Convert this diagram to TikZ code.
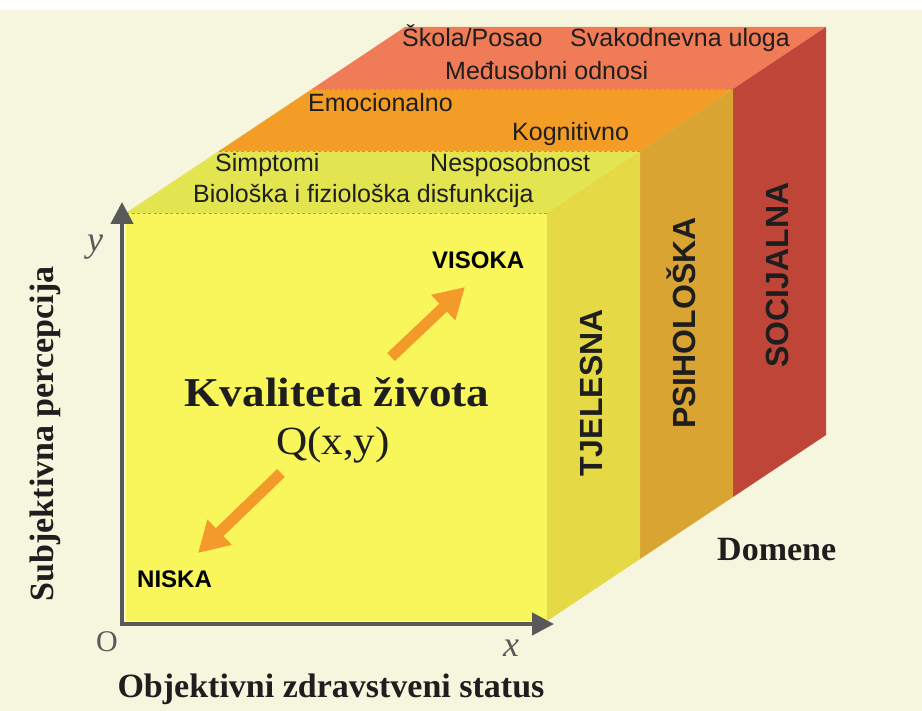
\documentclass[tikz,border=0pt]{standalone}
\usepackage{fontspec}
\setmainfont{Liberation Serif}
\setsansfont{Liberation Sans}
\usetikzlibrary{arrows.meta}
\definecolor{bgc}{HTML}{F6F6DF}
\definecolor{frontc}{HTML}{F8F65A}
\definecolor{ytopc}{HTML}{E3E550}
\definecolor{ysidec}{HTML}{E5DA45}
\definecolor{otopc}{HTML}{F39C26}
\definecolor{osidec}{HTML}{D9A431}
\definecolor{rtopc}{HTML}{F07B57}
\definecolor{rsidec}{HTML}{BE4538}
\definecolor{arrc}{HTML}{F39A2B}
\definecolor{axc}{HTML}{595959}
\definecolor{txc}{HTML}{1E1E1E}
\begin{document}
\begin{tikzpicture}[x=1pt,y=-1pt,
  toptxt/.style={font=\sffamily\fontsize{25}{30}\selectfont, text=txc, anchor=base west, inner sep=0pt},
  sidetxt/.style={font=\sffamily\bfseries\fontsize{32}{36}\selectfont, text=txc, rotate=90, anchor=base, inner sep=0pt},
  lvltxt/.style={font=\sffamily\bfseries\fontsize{24}{28}\selectfont, text=black, anchor=base west, inner sep=0pt},
  sertxt/.style={font=\bfseries\fontsize{34}{40}\selectfont, text=txc, anchor=base, inner sep=0pt},
  axtxt/.style={text=axc, inner sep=0pt},
  sep/.style={draw=gray!80, dashed, line width=0.8pt, dash pattern=on 3pt off 2.5pt},
  qarrow/.style={draw=arrc, line width=11pt, -{Triangle[length=30pt,width=33pt]}},
  axis/.style={draw=axc, line width=4.5pt, {Triangle[length=22pt,width=22pt]}-{Triangle[length=22pt,width=22pt]}}
]
\useasboundingbox (0,0) rectangle (922,711);
\fill[white] (0,0) rectangle (922,711);
\fill[bgc] (0,10) rectangle (922,711);

% corners
\coordinate (A) at (126,213);
\coordinate (B) at (547,213);
\coordinate (C) at (547,621);
\coordinate (D) at (126,621);
\coordinate (A1) at (219,151);
\coordinate (B1) at (640,151);
\coordinate (C1) at (640,559);
\coordinate (A2) at (312,89);
\coordinate (B2) at (733,89);
\coordinate (C2) at (733,497);
\coordinate (A3) at (405,27);
\coordinate (B3) at (826,27);
\coordinate (C3) at (826,435);

% red layer
\fill[rtopc] (A2) -- (B2) -- (B3) -- (A3) -- cycle;
\fill[rsidec] (B2) -- (C2) -- (C3) -- (B3) -- cycle;
% orange layer
\fill[otopc] (A1) -- (B1) -- (B2) -- (A2) -- cycle;
\fill[osidec] (B1) -- (C1) -- (C2) -- (B2) -- cycle;
% yellow layer
\fill[ytopc] (A) -- (B) -- (B1) -- (A1) -- cycle;
\fill[ysidec] (B) -- (C) -- (C1) -- (B1) -- cycle;
\fill[frontc] (A) -- (B) -- (C) -- (D) -- cycle;

% dashed separators
\draw[sep] (A) -- (B);
\draw[sep] (A1) -- (B1);
\draw[sep] (A2) -- (B2);

% top face texts
\node[toptxt] (t1) at (402,47) {Škola/Posao};
\node[toptxt] (t2) at (570,47) {Svakodnevna uloga};
\node[toptxt] (t3) at (445,80) {Međusobni odnosi};
\node[toptxt] (t4) at (308,112) {Emocionalno};
\node[toptxt] (t5) at (512,141) {Kognitivno};
\node[toptxt] (t6) at (215,172) {Simptomi};
\node[toptxt] (t7) at (430,172) {Nesposobnost};
\node[toptxt] (t8) at (193,203) {Biološka i fiziološka disfunkcija};

% side labels
\node[sidetxt] (s1) at (602,393) {TJELESNA};
\node[sidetxt] (s2) at (695,323) {PSIHOLOŠKA};
\node[sidetxt] (s3) at (788,275) {SOCIJALNA};

% axes
\coordinate (O) at (122,624);
\coordinate (ytip) at (122,202);
\coordinate (xtip) at (554,624);
\draw[axis] (ytip) -- (O) -- (xtip);
\node[axtxt, font=\itshape\fontsize{36}{40}\selectfont] (ylab) at (95,247) {y};
\node[axtxt, font=\fontsize{30}{34}\selectfont] (olab) at (107,642) {O};
\node[axtxt, font=\itshape\fontsize{36}{40}\selectfont] (xlab) at (511,648) {x};

% center texts
\node[sertxt, font=\bfseries\fontsize{41}{46}\selectfont] (kz) at (337,407) {\scalebox{1.1}[1]{Kvaliteta života}};
\node[sertxt, font=\fontsize{40}{46}\selectfont] (q) at (333,455) {\scalebox{1.08}[1]{Q(x,y)}};
\node[lvltxt] (vis) at (432,269) {VISOKA};
\node[lvltxt] (nis) at (137,587) {NISKA};

% orange arrows
\coordinate (u0) at (391,357);
\coordinate (u1) at (465,287);
\coordinate (l0) at (281,473);
\coordinate (l1) at (198,553);
\draw[qarrow] (u0) -- (u1);
\draw[qarrow] (l0) -- (l1);

% axis titles
\node[sertxt, rotate=90] (ysub) at (53,434) {Subjektivna percepcija};
\node[sertxt] (xobj) at (331,697) {Objektivni zdravstveni status};
\node[sertxt, anchor=base west] (dom) at (717,560) {Domene};
\end{tikzpicture}
\end{document}
